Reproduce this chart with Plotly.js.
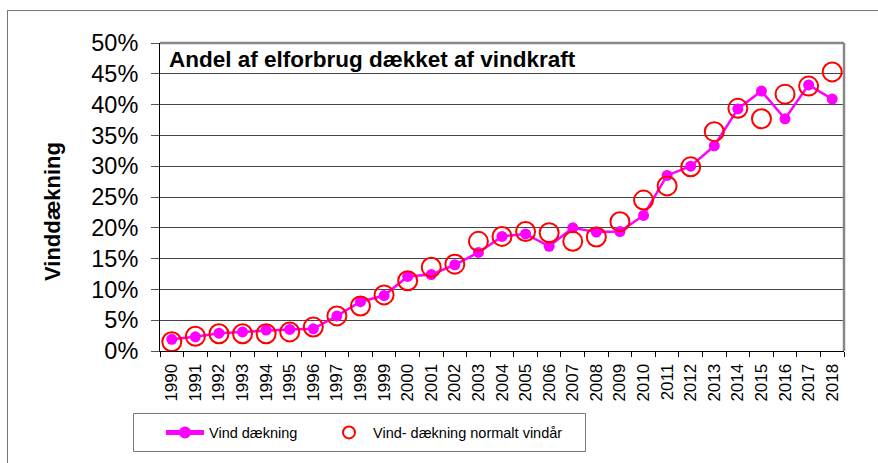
<!DOCTYPE html>
<html>
<head>
<meta charset="utf-8">
<script src="https://cdn.plot.ly/plotly-3.0.1.min.js"></script>
<style>
html,body{margin:0;padding:0;background:#fff;}
#chart{width:878px;height:463px;}
</style>
</head>
<body>
<div id="chart"></div>
<script>
var years = ["1990","1991","1992","1993","1994","1995","1996","1997","1998","1999",
             "2000","2001","2002","2003","2004","2005","2006","2007","2008","2009",
             "2010","2011","2012","2013","2014","2015","2016","2017","2018"];
var vindDaekning = [1.9,2.3,2.9,3.1,3.4,3.5,3.6,5.7,8.0,9.0,
                    12.1,12.4,14.0,16.0,18.6,19.0,17.0,20.0,19.3,19.4,
                    22.0,28.5,30.0,33.3,39.3,42.2,37.7,43.2,40.9];
var vindNormalt = [1.5,2.4,2.8,2.8,2.8,3.1,3.9,5.7,7.3,9.1,
                   11.4,13.6,14.1,17.8,18.6,19.4,19.2,17.8,18.5,21.0,
                   24.5,26.8,29.9,35.6,39.4,37.7,41.7,43.0,45.3];
var yTicks = [0,5,10,15,20,25,30,35,40,45,50];

var L = 160, R = 844, T = 43, B = 351;
function px2x(p){ return (p - L) / (R - L); }
function px2y(p){ return (B - p) / (B - T); }

var traces = [
  {
    x: years, y: vindDaekning, name: "Vind dækning",
    type: "scatter", mode: "lines+markers", legend: "legend",
    line: {color: "#FF00FF", width: 2.5},
    marker: {color: "#FF00FF", size: 11, symbol: "circle"}
  },
  {
    x: years, y: vindNormalt, name: "Vind- dækning normalt vindår",
    type: "scatter", mode: "markers", legend: "legend2",
    marker: {color: "#FF0000", size: 19, symbol: "circle-open", line: {color: "#FF0000", width: 2}}
  }
];

var legendFont = {size: 14.5, family: "Liberation Sans, Arial, sans-serif", color: "#000"};

var layout = {
  width: 878, height: 463,
  margin: {l: L, r: 878 - R, t: T, b: 463 - B},
  paper_bgcolor: "#fff", plot_bgcolor: "#fff",
  font: {family: "Liberation Sans, Arial, sans-serif", color: "#000"},
  showlegend: true,
  xaxis: {
    type: "category", tickson: "boundaries",
    range: [-0.5, years.length - 0.5],
    ticks: "outside", ticklen: 5, tickcolor: "#000", tickwidth: 1,
    ticklabelstandoff: 5,
    tickangle: -90, tickfont: {size: 17, family: "Liberation Sans, Arial, sans-serif"},
    showline: true, linecolor: "#000", linewidth: 1,
    showgrid: false, zeroline: false, fixedrange: true
  },
  yaxis: {
    range: [0, 50], tickvals: yTicks, ticktext: yTicks.map(function(v){return v + "%";}),
    ticks: "outside", ticklen: 8, tickcolor: "#555", tickwidth: 1,
    ticklabelstandoff: 8,
    tickfont: {size: 23.5, family: "Liberation Sans, Arial, sans-serif"},
    showline: true, linecolor: "#000", linewidth: 1,
    showgrid: true, gridcolor: "#444", gridwidth: 1,
    zeroline: false, fixedrange: true
  },
  legend: {
    orientation: "h", x: px2x(161), y: px2y(432.5), xanchor: "left", yanchor: "middle",
    borderwidth: 0, bgcolor: "rgba(0,0,0,0)",
    font: legendFont, itemwidth: 38, itemsizing: "constant"
  },
  legend2: {
    orientation: "h", x: px2x(325), y: px2y(432.5), xanchor: "left", yanchor: "middle",
    borderwidth: 0, bgcolor: "rgba(0,0,0,0)",
    font: legendFont, itemwidth: 38, itemsizing: "constant"
  },
  annotations: [
    {
      text: "<b>Andel af elforbrug dækket af vindkraft</b>",
      xref: "paper", yref: "paper", x: px2x(167), y: px2y(59),
      xanchor: "left", yanchor: "middle", showarrow: false,
      font: {size: 22.5, family: "Liberation Sans, Arial, sans-serif", color: "#000"}
    },
    {
      text: "<b>Vinddækning</b>",
      xref: "paper", yref: "paper", x: px2x(52), y: px2y(212),
      xanchor: "center", yanchor: "middle", showarrow: false, textangle: -90,
      font: {size: 22, family: "Liberation Sans, Arial, sans-serif", color: "#000"}
    }
  ],
  shapes: [
    {type: "line", xref: "paper", yref: "paper", x0: 0, x1: 1, y0: 1, y1: 1,
     line: {color: "#888", width: 2.5}, layer: "above"},
    {type: "line", xref: "paper", yref: "paper", x0: 1, x1: 1, y0: 0, y1: 1,
     line: {color: "#888", width: 2.5}, layer: "above"},
    {type: "line", xref: "paper", yref: "paper", x0: px2x(7), x1: px2x(880), y0: px2y(10.5), y1: px2y(10.5),
     line: {color: "#777", width: 1}, layer: "above"},
    {type: "line", xref: "paper", yref: "paper", x0: px2x(7.5), x1: px2x(7.5), y0: px2y(10.5), y1: px2y(470),
     line: {color: "#777", width: 1}, layer: "above"},
    {type: "rect", xref: "paper", yref: "paper", x0: px2x(133.5), x1: px2x(585.5), y0: px2y(413.5), y1: px2y(451.5),
     line: {color: "#777", width: 1}, fillcolor: "rgba(0,0,0,0)", layer: "above"}
  ]
};

Plotly.newPlot("chart", traces, layout, {displayModeBar: false, staticPlot: true});
</script>
</body>
</html>
